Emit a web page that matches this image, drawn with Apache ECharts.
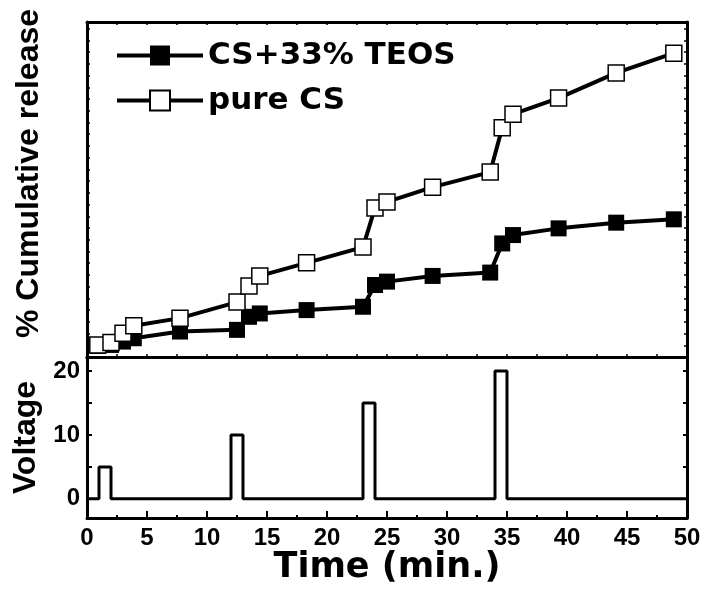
<!DOCTYPE html>
<html>
<head>
<meta charset="utf-8">
<script src="https://cdn.jsdelivr.net/npm/echarts@6/dist/echarts.min.js"></script>
<style>html,body{margin:0;padding:0;background:#fff;}#c{width:704px;height:594px;}</style>
</head>
<body>
<div id="c"></div>
<script>
// Time points (min.) of the release measurements
const times = [0.9, 2.0, 3.0, 3.9, 7.75, 12.5, 13.5, 14.4, 18.3, 23.0, 24.0, 25.0, 28.8, 33.6, 34.6, 35.5, 39.3, 44.1, 48.9];
// % cumulative release (arbitrary units, no tick labels on the original)
const teosRelease = [3.3, 3.6, 4.6, 5.6, 7.6, 8.1, 12.0, 13.0, 14.0, 15.0, 21.5, 22.5, 24.2, 25.2, 33.9, 36.4, 38.4, 40.1, 41.1];
const pureRelease = [3.6, 4.3, 7.1, 9.3, 11.6, 16.4, 21.2, 24.2, 28.1, 32.8, 44.5, 46.3, 50.7, 55.2, 68.4, 72.5, 77.3, 84.8, 90.7];
// Voltage pulses
const pulseStart = [1, 12, 23, 34];
const pulseEnd = [2, 13, 24, 35];
const pulseVolt = [5, 10, 15, 20];
const timeEnd = 50;
// Tick labels
const xTicks = [0, 5, 10, 15, 20, 25, 30, 35, 40, 45, 50];
const vLabels = [0, 10, 20];
const vTicks = [0, 5, 10, 15, 20];

const seriesNames = ['CS+33% TEOS', 'pure CS'];

function stepData() {
  const d = [[0, 0]];
  for (let i = 0; i < pulseStart.length; i++) {
    d.push([pulseStart[i], 0], [pulseStart[i], pulseVolt[i]], [pulseEnd[i], pulseVolt[i]], [pulseEnd[i], 0]);
  }
  d.push([timeEnd, 0]);
  return d;
}

const black = '#000';
const frame = { show: true, onZero: false, lineStyle: { color: black, width: 3 } };
const tickFont = { fontFamily: 'Liberation Sans, Arial, sans-serif', fontWeight: 'bold', fontSize: 24, color: black };
const titleFont = { fontFamily: 'Liberation Sans, Arial, sans-serif', fontWeight: 'bold', fontSize: 32, color: black };

const chart = echarts.init(document.getElementById('c'), null, { renderer: 'canvas' });
chart.setOption({
  animation: false,
  backgroundColor: '#fff',
  grid: [
    { left: 87, right: 17, top: 22, height: 335 },
    { left: 87, right: 17, top: 357, height: 161 }
  ],
  legend: {
    orient: 'vertical',
    left: 110,
    top: 35,
    itemWidth: 86,
    itemHeight: 25,
    itemGap: 14,
    data: seriesNames,
    lineStyle: { width: 4, color: black },
    textStyle: { fontFamily: 'DejaVu Sans', fontWeight: 'bold', fontSize: 31, color: black }
  },
  xAxis: [
    { gridIndex: 0, type: 'value', min: 0, max: 50, interval: 2.5, position: 'bottom', axisLine: frame,
      axisTick: { inside: true, length: 3, lineStyle: { color: black, width: 1.5 } }, axisLabel: { show: false }, splitLine: { show: false } },
    { gridIndex: 0, type: 'value', min: 0, max: 50, interval: 2.5, position: 'top', axisLine: frame,
      axisTick: { inside: true, length: 3, lineStyle: { color: black, width: 1.5 } }, axisLabel: { show: false }, splitLine: { show: false } },
    { gridIndex: 1, type: 'value', min: 0, max: 50, interval: 5, position: 'bottom', axisLine: frame,
      axisTick: { inside: true, length: 7, lineStyle: { color: black, width: 2 } },
      minorTick: { show: true, splitNumber: 2, length: 3, lineStyle: { color: black, width: 2 } },
      axisLabel: Object.assign({ margin: 8, customValues: xTicks }, tickFont),
      splitLine: { show: false },
      name: 'Time (min.)', nameLocation: 'middle', nameGap: 30,
      nameTextStyle: { fontFamily: 'DejaVu Sans', fontWeight: 'bold', fontSize: 35, color: black } },
    { gridIndex: 1, type: 'value', min: 0, max: 50, position: 'top', axisLine: frame,
      axisTick: { show: false }, axisLabel: { show: false }, splitLine: { show: false } }
  ],
  yAxis: [
    { gridIndex: 0, type: 'value', min: 0, max: 100, interval: 3.5, position: 'left', axisLine: frame,
      axisTick: { inside: true, length: 3, lineStyle: { color: black, width: 1.5 } }, axisLabel: { show: false }, splitLine: { show: false },
      name: '% Cumulative release', nameLocation: 'middle', nameGap: 42,
      nameTextStyle: Object.assign({ padding: [0, 0, 0, 32] }, titleFont) },
    { gridIndex: 0, type: 'value', min: 0, max: 100, interval: 3.5, position: 'right', axisLine: frame,
      axisTick: { inside: true, length: 3, lineStyle: { color: black, width: 1.5 } }, axisLabel: { show: false }, splitLine: { show: false } },
    { gridIndex: 1, type: 'value', min: -3, max: 22.2, position: 'left', axisLine: frame,
      axisTick: { inside: true, length: 5, customValues: vTicks, lineStyle: { color: black, width: 2 } },
      axisLabel: Object.assign({ margin: 7, customValues: vLabels }, tickFont),
      splitLine: { show: false },
      name: 'Voltage', nameLocation: 'middle', nameGap: 42,
      nameTextStyle: titleFont },
    { gridIndex: 1, type: 'value', min: -3, max: 22.2, position: 'right', axisLine: frame,
      axisTick: { inside: true, length: 4, customValues: vTicks, lineStyle: { color: black, width: 2 } },
      axisLabel: { show: false }, splitLine: { show: false } }
  ],
  series: [
    { name: seriesNames[0], type: 'line', xAxisIndex: 0, yAxisIndex: 0,
      data: times.map((t, i) => [t, teosRelease[i]]),
      symbol: 'rect', symbolSize: 16,
      lineStyle: { color: black, width: 4 },
      itemStyle: { color: black, borderColor: black, borderWidth: 0 } },
    { name: seriesNames[1], type: 'line', xAxisIndex: 0, yAxisIndex: 0,
      data: times.map((t, i) => [t, pureRelease[i]]),
      symbol: 'rect', symbolSize: 16,
      lineStyle: { color: black, width: 4 },
      itemStyle: { color: '#fff', borderColor: black, borderWidth: 1.5 } },
    { name: 'Voltage', type: 'line', xAxisIndex: 2, yAxisIndex: 2,
      data: stepData(), showSymbol: false, symbol: 'none',
      lineStyle: { color: black, width: 3 } }
  ]
});
</script>
</body>
</html>
